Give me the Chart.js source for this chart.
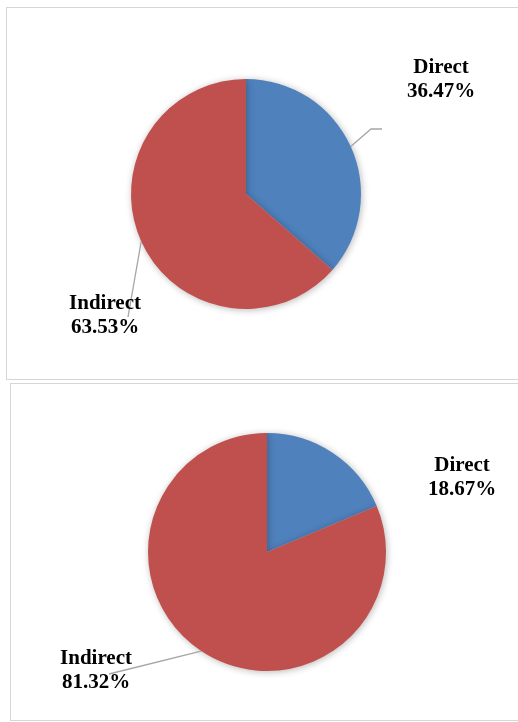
<!DOCTYPE html>
<html>
<head>
<meta charset="utf-8">
<script src="https://cdn.jsdelivr.net/npm/chart.js@4.4.0/dist/chart.umd.min.js"></script>
<style>
  body { margin: 0; background: #fff; width: 518px; height: 722px; position: relative; overflow: hidden; }
  .panel { position: absolute; border: 1px solid #d6d6d6; border-right: none; background: #fff; }
  #panel1 { left: 6px; top: 7px; width: 520px; height: 371px; }
  #panel2 { left: 10px; top: 383px; width: 520px; height: 336px; }
  canvas { position: absolute; left: 0; top: 0; }
</style>
</head>
<body>
<div class="panel" id="panel1"><canvas id="chart1"></canvas></div>
<div class="panel" id="panel2"><canvas id="chart2"></canvas></div>
<script>
// data
const categories = ['Direct', 'Indirect'];
const valuesTop = [36.47, 63.53];
const valuesBottom = [18.67, 81.32];
const colors = ['#4F81BD', '#C0504D'];

// soft shadow under the pie
const shadowPlugin = {
  id: 'pieShadow',
  beforeDatasetsDraw(chart) {
    const ctx = chart.ctx;
    ctx.save();
    ctx.shadowColor = 'rgba(0,0,0,0.28)';
    ctx.shadowBlur = 7;
    ctx.shadowOffsetX = 1;
    ctx.shadowOffsetY = 1;
  },
  afterDatasetsDraw(chart) {
    chart.ctx.restore();
  }
};

// labels with leader lines, positions in canvas px
const labelPlugin = {
  id: 'sliceLabels',
  afterDraw(chart, args, opts) {
    const ctx = chart.ctx;
    const meta = chart.getDatasetMeta(0);
    const values = chart.data.datasets[0].data;
    opts.items.forEach((item, i) => {
      const arc = meta.data[i];
      if (item.line) {
        const mid = (arc.startAngle + arc.endAngle) / 2;
        const sx = arc.x + Math.cos(mid) * arc.outerRadius;
        const sy = arc.y + Math.sin(mid) * arc.outerRadius;
        ctx.save();
        ctx.strokeStyle = '#a6a6a6';
        ctx.lineWidth = 1.3;
        ctx.beginPath();
        ctx.moveTo(sx, sy);
        item.line.forEach(p => ctx.lineTo(p[0], p[1]));
        ctx.stroke();
        ctx.restore();
      }
      ctx.save();
      ctx.fillStyle = '#000';
      ctx.font = 'bold 21px "Liberation Serif", "Times New Roman", serif';
      ctx.textAlign = 'center';
      ctx.textBaseline = 'alphabetic';
      ctx.fillText(chart.data.labels[i], item.x, item.y);
      ctx.fillText(values[i].toFixed(2) + '%', item.x, item.y + 24);
      ctx.restore();
    });
  }
};

function makePie(id, values, w, h, padding, items) {
  const canvas = document.getElementById(id);
  canvas.style.width = w + 'px';
  canvas.style.height = h + 'px';
  canvas.width = w;
  canvas.height = h;
  return new Chart(canvas, {
    type: 'pie',
    data: {
      labels: categories,
      datasets: [{
        data: values,
        backgroundColor: colors,
        borderWidth: 0
      }]
    },
    options: {
      responsive: false,
      animation: false,
      events: [],
      layout: { padding: padding },
      plugins: {
        legend: { display: false },
        tooltip: { enabled: false },
        sliceLabels: { items: items }
      }
    },
    plugins: [shadowPlugin, labelPlugin]
  });
}

// top pie: centre (246,193) r 115 on the page
makePie('chart1', valuesTop, 512, 371,
  { left: 124, right: 158, top: 71, bottom: 70 },
  [
    { x: 434, y: 65, line: [[364, 121], [375, 121]] },
    { x: 98, y: 301, line: [[121, 309]] }
  ]);

// bottom pie: centre (267,552) r 119 on the page
makePie('chart2', valuesBottom, 508, 336,
  { left: 137, right: 133, top: 49, bottom: 49 },
  [
    { x: 451, y: 87, line: null },
    { x: 85, y: 280, line: [[98, 290]] }
  ]);
</script>
</body>
</html>
